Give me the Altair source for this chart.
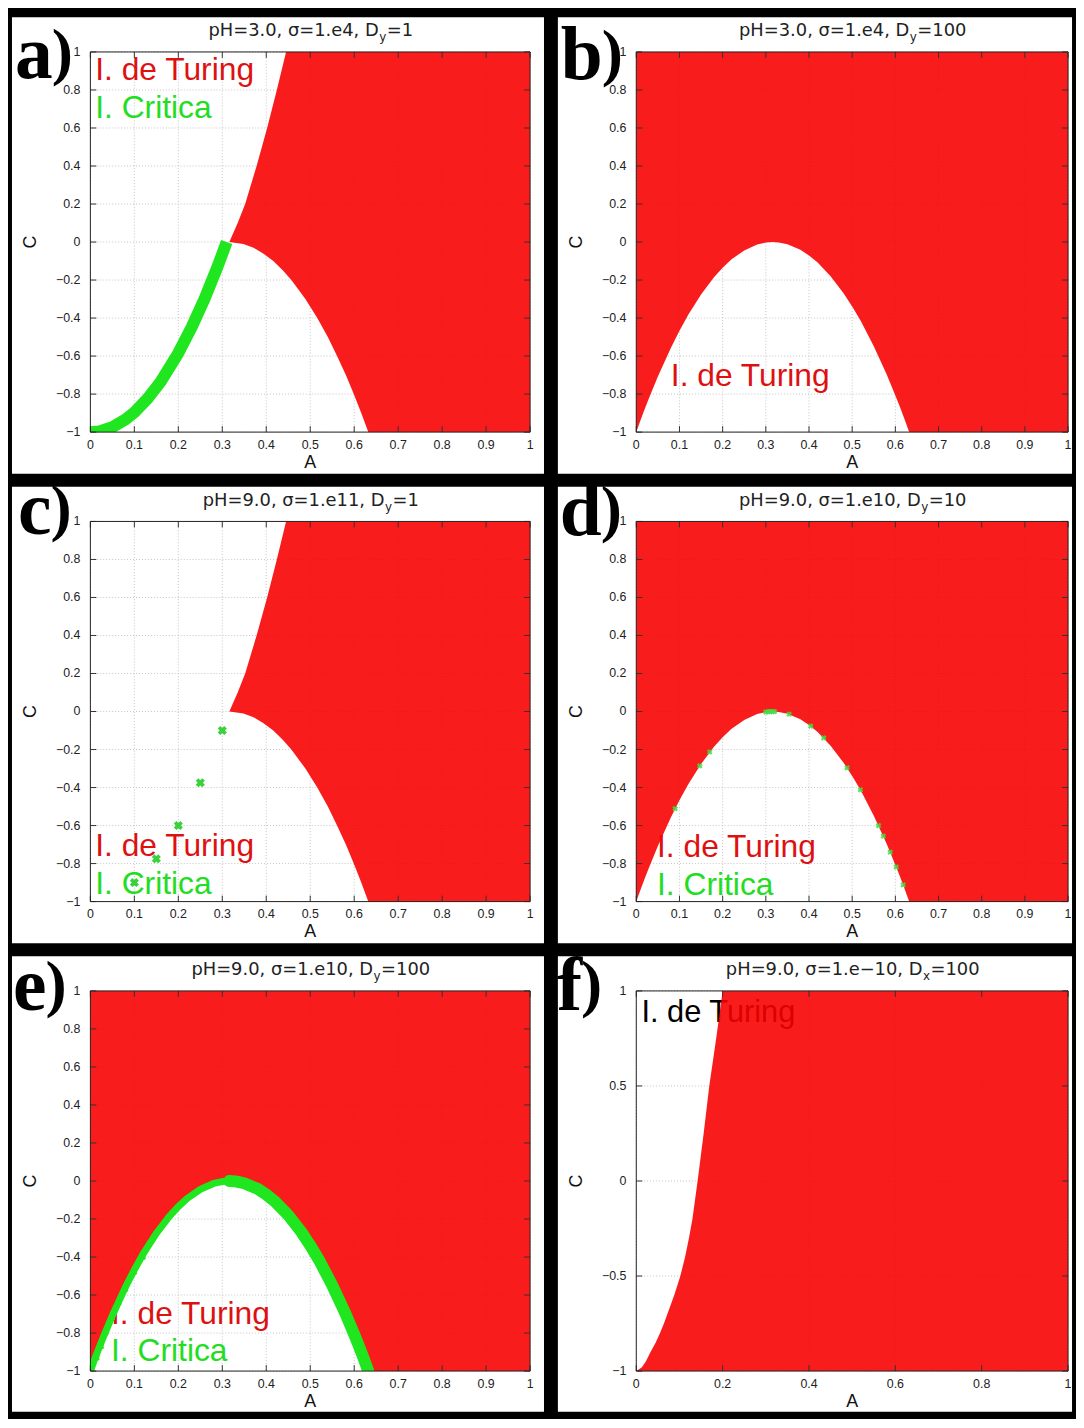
import altair as alt
import pandas as pd

# ---------------- data ----------------
XT = [0, 0.1, 0.2, 0.3, 0.4, 0.5, 0.6, 0.7, 0.8, 0.9, 1]
YT = [-1, -0.8, -0.6, -0.4, -0.2, 0, 0.2, 0.4, 0.6, 0.8, 1]
XT_F = [0, 0.2, 0.4, 0.6, 0.8, 1]
YT_F = [-1, -0.5, 0, 0.5, 1]

# lower edge of the Turing region (white pocket below it) - panels b, d, e
PAR_A = [0.0, 0.01, 0.02, 0.03, 0.05, 0.08, 0.10, 0.12, 0.15, 0.18, 0.20, 0.22, 0.25, 0.28, 0.30, 0.316,
         0.33, 0.35, 0.38, 0.40, 0.42, 0.45, 0.48, 0.50, 0.52, 0.55, 0.58, 0.60, 0.61, 0.62, 0.632, 1.0]
PAR_C = [-1.0, -0.936, -0.876, -0.818, -0.708, -0.557, -0.467, -0.384, -0.276, -0.185, -0.135, -0.092, -0.044,
         -0.013, -0.003, 0.0, -0.002, -0.012, -0.041, -0.071, -0.108, -0.180, -0.269, -0.339, -0.416, -0.548,
         -0.697, -0.807, -0.864, -0.924, -1.0, -1.0]

# left edge of the Turing region - panels a, c
BND_C = [-1.0, -0.9, -0.8, -0.7, -0.6, -0.5, -0.4, -0.3, -0.2, -0.15, -0.1, -0.06, -0.03, -0.01, 0.0,
         0.1, 0.2, 0.4, 0.6, 0.8, 1.0]
BND_A = [0.632, 0.616, 0.599, 0.581, 0.561, 0.540, 0.516, 0.489, 0.457, 0.438, 0.416, 0.393, 0.371, 0.348, 0.316,
         0.335, 0.352, 0.378, 0.402, 0.424, 0.445]

# left edge of the Turing region - panel f
F_C = [-1.0, -0.98, -0.95, -0.9, -0.85, -0.8, -0.75, -0.7, -0.6, -0.5, -0.4, -0.3, -0.2, -0.1, 0.0,
       0.25, 0.5, 0.75, 1.0]
F_A = [0.0, 0.013, 0.022, 0.033, 0.045, 0.055, 0.064, 0.072, 0.088, 0.102, 0.113, 0.122, 0.130, 0.136, 0.142,
       0.156, 0.169, 0.185, 0.200]

# critical curves
GA_A = [0.0, 0.02, 0.05, 0.08, 0.10, 0.13, 0.16, 0.20, 0.23, 0.26, 0.29, 0.31]
GA_C = [-1.0, -0.996, -0.974, -0.933, -0.896, -0.824, -0.734, -0.584, -0.450, -0.297, -0.125, 0.0]
GC_A = [0.10, 0.15, 0.20, 0.25, 0.30]
GC_C = [-0.90, -0.775, -0.60, -0.375, -0.10]
GD_A = [0.09, 0.147, 0.17, 0.30, 0.305, 0.31, 0.315, 0.32, 0.354, 0.404, 0.434, 0.488, 0.519, 0.561, 0.572,
        0.588, 0.602, 0.618]
GD_C = [-0.511, -0.286, -0.213, -0.003, -0.001, 0.0, 0.0, 0.0, -0.014, -0.077, -0.139, -0.296, -0.412, -0.600,
        -0.655, -0.740, -0.818, -0.912]
GE_LA = [0.0, 0.01, 0.02, 0.03, 0.05, 0.08, 0.10, 0.12, 0.15, 0.18, 0.20, 0.22, 0.25, 0.28, 0.30, 0.316]
GE_LC = [-1.0, -0.936, -0.876, -0.818, -0.708, -0.557, -0.467, -0.384, -0.276, -0.185, -0.135, -0.092, -0.044,
         -0.013, -0.003, 0.0]
GE_RA = [0.316, 0.33, 0.35, 0.38, 0.40, 0.42, 0.45, 0.48, 0.50, 0.52, 0.55, 0.58, 0.60, 0.61, 0.62, 0.632]
GE_RC = [0.0, -0.002, -0.012, -0.041, -0.071, -0.108, -0.180, -0.269, -0.339, -0.416, -0.548, -0.697, -0.807,
         -0.864, -0.924, -1.0]
GE_XA = [0.015, 0.025, 0.035, 0.05, 0.065, 0.08, 0.10, 0.12]
GE_XC = [-0.93, -0.87, -0.80, -0.72, -0.64, -0.57, -0.48, -0.40]

TITLES = {
    'a': ("pH=3.0, σ=1.e4, D", "y", "=1"),
    'b': ("pH=3.0, σ=1.e4, D", "y", "=100"),
    'c': ("pH=9.0, σ=1.e11, D", "y", "=1"),
    'd': ("pH=9.0, σ=1.e10, D", "y", "=10"),
    'e': ("pH=9.0, σ=1.e10, D", "y", "=100"),
    'f': ("pH=9.0, σ=1.e−10, D", "x", "=100"),
}

# ---------------- styling ----------------
RED = '#f80000'
RED_OP = 0.89
GREEN = '#1fe61f'
TXT_RED = '#dd1111'
TXT_GREEN = '#22dd22'
SANS = 'Liberation Sans'

XS = alt.Scale(domain=[0, 1], nice=False, zero=False)
YS = alt.Scale(domain=[-1, 1], nice=False, zero=False)
ONE = pd.DataFrame({'k': [0]})

DJ = {' ': .318, ',': .318, '.': .318, '=': .838, 'p': .635, 'H': .752, 'D': .770, 'e': .615,
      'y': .592, 'x': .592, 'σ': .634, '−': .838}


def tw(s, size):
    return sum(DJ.get(ch, 0.636) for ch in s) * size


def lab(v):
    return f"{v:g}".replace('-', '−')


def XA():
    return alt.X('A:Q', scale=XS, axis=None)


def YC():
    return alt.Y('C:Q', scale=YS, axis=None)


def df(a, c):
    return pd.DataFrame({'A': a, 'C': c})


def red_vertical():
    return alt.Chart(df(PAR_A, PAR_C)).mark_area(color=RED, opacity=RED_OP, orient='vertical').encode(
        x=XA(), y=YC(), y2=alt.Y2Datum(1))


def red_horizontal(a, c):
    return alt.Chart(df(a, c)).mark_area(color=RED, opacity=RED_OP, orient='horizontal').encode(
        y=YC(), x=XA(), x2=alt.X2Datum(1))


def green_line(a, c, w, cap='butt'):
    return alt.Chart(df(a, c)).mark_line(color=GREEN, strokeWidth=w, clip=True, strokeCap=cap,
                                         strokeJoin='round').encode(x=XA(), y=YC())


def green_x(a, c, size, color, op=1.0):
    return alt.Chart(df(a, c)).mark_point(shape='cross', angle=45, filled=True, size=size, color=color,
                                          opacity=op, clip=True).encode(x=XA(), y=YC())


def panel(key, W, H, T, B, L, R, xt, yt, red, greens, texts, letter_pos, tsize=32):
    layers = []
    # white card of the panel (black page shows between cards)
    layers.append(alt.Chart(ONE).mark_rect(color='white').encode(
        x=alt.value(-L), x2=alt.value(W + R), y=alt.value(-T), y2=alt.value(H + B)))
    xv = pd.DataFrame({'v': xt, 'lab': [lab(v) for v in xt]})
    yv = pd.DataFrame({'v': yt, 'lab': [lab(v) for v in yt]})
    grid = dict(color='#c4c4c4', strokeDash=[1, 2], strokeWidth=1)
    layers.append(alt.Chart(xv).mark_rule(**grid).encode(x=alt.X('v:Q', scale=XS, axis=None)))
    layers.append(alt.Chart(yv).mark_rule(**grid).encode(y=alt.Y('v:Q', scale=YS, axis=None)))
    for s, a, c, col in texts:
        layers.append(alt.Chart(df([a], [c])).mark_text(text=s, font=SANS, fontSize=tsize, color=col,
                                                         align='left', baseline='alphabetic')
                      .encode(x=XA(), y=YC()))
    layers.append(red)
    layers.extend(greens)
    tick = dict(color='#333', strokeWidth=1)
    layers.append(alt.Chart(xv).mark_rule(**tick).encode(
        x=alt.X('v:Q', scale=XS, axis=None), y=alt.value(H), y2=alt.value(H - 6)))
    layers.append(alt.Chart(xv).mark_rule(**tick).encode(
        x=alt.X('v:Q', scale=XS, axis=None), y=alt.value(0), y2=alt.value(6)))
    layers.append(alt.Chart(yv).mark_rule(**tick).encode(
        y=alt.Y('v:Q', scale=YS, axis=None), x=alt.value(0), x2=alt.value(6)))
    layers.append(alt.Chart(yv).mark_rule(**tick).encode(
        y=alt.Y('v:Q', scale=YS, axis=None), x=alt.value(W), x2=alt.value(W - 6)))
    layers.append(alt.Chart(ONE).mark_rect(fillOpacity=0, stroke='#222', strokeWidth=1).encode(
        x=alt.value(0), x2=alt.value(W), y=alt.value(0), y2=alt.value(H)))
    # tick labels and axis titles
    lcol = '#222'
    layers.append(alt.Chart(xv).mark_text(font=SANS, fontSize=12.5, color=lcol, align='center', baseline='top')
                  .encode(x=alt.X('v:Q', scale=XS, axis=None), y=alt.value(H + 7), text='lab:N'))
    layers.append(alt.Chart(yv).mark_text(font=SANS, fontSize=12.5, color=lcol, align='right', baseline='middle')
                  .encode(y=alt.Y('v:Q', scale=YS, axis=None), x=alt.value(-10), text='lab:N'))
    layers.append(alt.Chart(ONE).mark_text(text='A', font=SANS, fontSize=18, color='#111', align='center',
                                           baseline='alphabetic').encode(x=alt.value(W / 2), y=alt.value(H + 36)))
    layers.append(alt.Chart(ONE).mark_text(text='C', font=SANS, fontSize=18, color='#111', align='center',
                                           baseline='alphabetic', angle=270)
                  .encode(x=alt.value(-55), y=alt.value(H / 2)))
    # title with subscript
    main, sub, rest = TITLES[key]
    fs, sfs = 18, 12
    total = tw(main, fs) + tw(sub, sfs) + tw(rest, fs)
    xj = W / 2 - total / 2 + tw(main, fs)
    tcfg = dict(font='DejaVu Sans', color='#222', baseline='alphabetic')
    layers.append(alt.Chart(ONE).mark_text(text=main, fontSize=fs, align='right', **tcfg).encode(
        x=alt.value(xj), y=alt.value(-16)))
    layers.append(alt.Chart(ONE).mark_text(text=sub, fontSize=sfs, align='left', **tcfg).encode(
        x=alt.value(xj + 0.5), y=alt.value(-11)))
    layers.append(alt.Chart(ONE).mark_text(text=rest, fontSize=fs, align='left', **tcfg).encode(
        x=alt.value(xj + tw(sub, sfs) + 1), y=alt.value(-16)))
    # panel letter
    lx, ly = letter_pos
    lw = {'a': .5, 'b': .556, 'c': .444, 'd': .556, 'e': .444, 'f': .333}[key] * 76
    lcfg = dict(font='Liberation Serif', fontWeight='bold', color='black', align='left', baseline='alphabetic')
    layers.append(alt.Chart(ONE).mark_text(text=key, fontSize=76, **lcfg).encode(
        x=alt.value(lx), y=alt.value(ly)))
    layers.append(alt.Chart(ONE).mark_text(text=')', fontSize=64, **lcfg).encode(
        x=alt.value(lx + lw - 1), y=alt.value(ly - 5)))
    return alt.layer(*layers).properties(width=W, height=H)


WL, WR, H = 443, 435, 383
T, L = 35, 79

pa = panel('a', WL, H, T, 42, L, 14, XT, YT, red_horizontal(BND_A, BND_C),
           [green_line(GA_A, GA_C, 12)],
           [("I. de Turing", 0.011, 0.853, TXT_RED), ("I. Critica", 0.011, 0.655, TXT_GREEN)], (-76, 26))
pb = panel('b', WR, H, T, 42, L, 4, XT, YT, red_vertical(), [],
           [("I. de Turing", 0.080, -0.760, TXT_RED)], (-76, 27))
pc = panel('c', WL, H, T, 42, L, 14, XT, YT, red_horizontal(BND_A, BND_C),
           [green_x(GC_A, GC_C, 85, '#3ad23a')],
           [("I. de Turing", 0.011, -0.760, TXT_RED), ("I. Critica", 0.011, -0.958, TXT_GREEN)], (-73, 13))
pd_ = panel('d', WR, H, T, 42, L, 4, XT, YT, red_vertical(),
            [green_x(GD_A, GD_C, 34, '#44dd44', 0.85)],
            [("I. de Turing", 0.048, -0.763, TXT_RED), ("I. Critica", 0.048, -0.963, TXT_GREEN)], (-77, 14))
pe = panel('e', WL, H, T, 41, L, 14, XT, YT, red_vertical(),
           [green_line(GE_LA, GE_LC, 7, 'round'), green_line(GE_RA, GE_RC, 12, 'round'),
            green_x(GE_XA, GE_XC, 36, GREEN)],
           [("I. de Turing", 0.047, -0.752, TXT_RED), ("I. Critica", 0.047, -0.948, TXT_GREEN)], (-78, 19))
pf = panel('f', WR, H, T, 41, L, 4, XT_F, YT_F, red_horizontal(F_A, F_C), [],
           [("I. de Turing", 0.012, 0.839, 'black')], (-80, 19), tsize=31)

chart = alt.concat(pa, pb, pc, pd_, pe, pf, columns=2, spacing={'row': 90, 'column': 107},
                   bounds='flush').properties(
    background='black', padding={'left': 4, 'top': 4, 'right': 4, 'bottom': 2}
).configure_view(strokeWidth=0)

chart.save("out.html", embed_options={"renderer": "svg", "actions": False})
